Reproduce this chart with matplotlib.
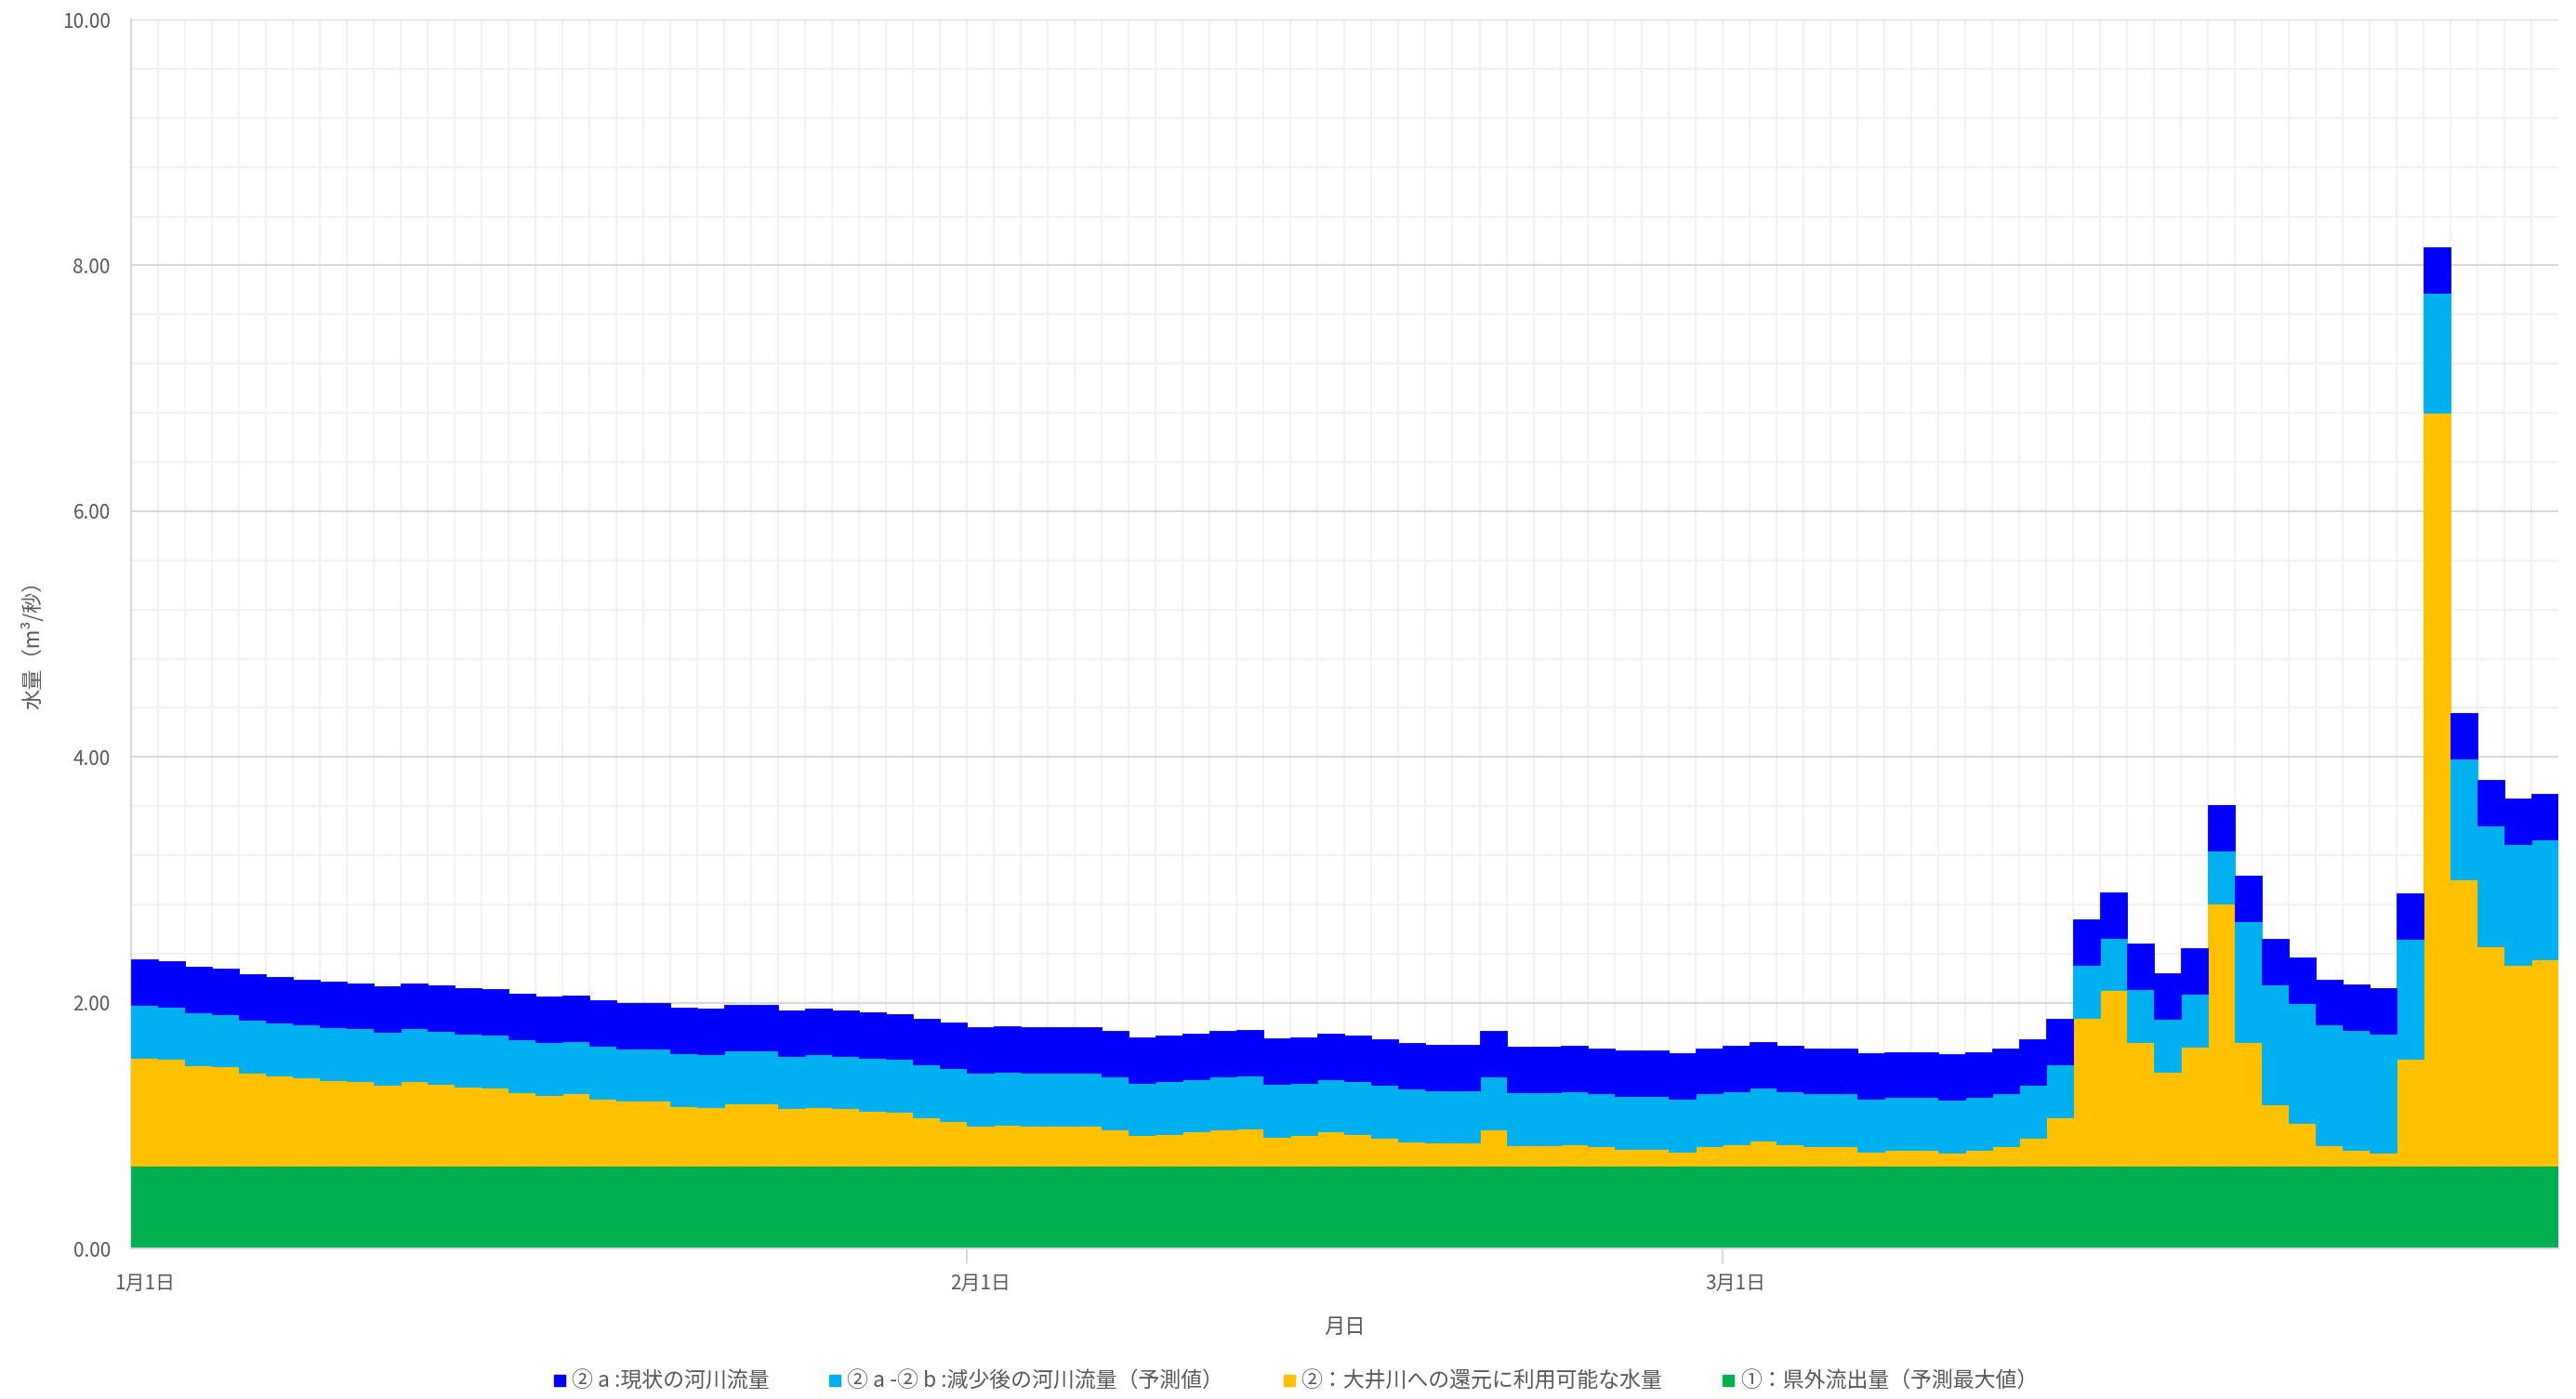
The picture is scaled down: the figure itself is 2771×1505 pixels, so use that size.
import matplotlib
matplotlib.use('Agg')
import numpy as np
import matplotlib.pyplot as plt
from matplotlib.lines import Line2D
from matplotlib.ticker import MultipleLocator, FixedLocator

plt.rcParams['font.family'] = ['Noto Sans CJK JP', 'DejaVu Sans']

# Datos (m3/秒), 1月1日〜3月31日, 1日ごと
dias = np.arange(90)

green = [0.67] * 90  # ①：県外流出量（予測最大値）

yellow = [
    0.88, 0.87, 0.82, 0.81, 0.76, 0.74, 0.72, 0.70, 0.69, 0.66,
    0.69, 0.67, 0.65, 0.64, 0.60, 0.58, 0.59, 0.55, 0.53, 0.53,
    0.49, 0.48, 0.51, 0.51, 0.47, 0.48, 0.47, 0.45, 0.44, 0.40,
    0.37, 0.33, 0.34, 0.33, 0.33, 0.33, 0.30, 0.25, 0.26, 0.28,
    0.30, 0.31, 0.24, 0.25, 0.28, 0.26, 0.23, 0.20, 0.19, 0.19,
    0.30, 0.17, 0.17, 0.18, 0.16, 0.14, 0.14, 0.12, 0.16, 0.18,
    0.21, 0.18, 0.16, 0.16, 0.12, 0.13, 0.13, 0.11, 0.13, 0.16,
    0.23, 0.40, 1.21, 1.43, 1.01, 0.77, 0.97, 2.14, 1.01, 0.50,
    0.35, 0.17, 0.13, 0.11, 0.87, 6.13, 2.33, 1.79, 1.64, 1.68,
]

cyan = [
    0.43, 0.43, 0.43, 0.43, 0.43, 0.43, 0.43, 0.43, 0.43, 0.43,
    0.43, 0.43, 0.43, 0.43, 0.43, 0.43, 0.43, 0.43, 0.43, 0.43,
    0.43, 0.43, 0.43, 0.43, 0.43, 0.43, 0.43, 0.43, 0.43, 0.43,
    0.43, 0.43, 0.43, 0.43, 0.43, 0.43, 0.43, 0.43, 0.43, 0.43,
    0.43, 0.43, 0.43, 0.43, 0.43, 0.43, 0.43, 0.43, 0.43, 0.43,
    0.43, 0.43, 0.43, 0.43, 0.43, 0.43, 0.43, 0.43, 0.43, 0.43,
    0.43, 0.43, 0.43, 0.43, 0.43, 0.43, 0.43, 0.43, 0.43, 0.43,
    0.43, 0.43, 0.43, 0.43, 0.43, 0.43, 0.43, 0.43, 0.98, 0.98,
    0.98, 0.98, 0.98, 0.97, 0.98, 0.98, 0.99, 0.98, 0.98, 0.98,
]

blue = [0.37] * 90

series = [
    ('①：県外流出量（予測最大値）', green, '#00B050'),
    ('②：大井川への還元に利用可能な水量', yellow, '#FFC000'),
    ('② a -② b :減少後の河川流量（予測値）', cyan, '#00B0F0'),
    ('② a :現状の河川流量', blue, '#0000FF'),
]

meses = ['1月1日', '2月1日', '3月1日']
inicio_mes = [0, 31, 59]

gris_texto = '#595959'

fig = plt.figure(figsize=(27.71, 15.05), dpi=100)
ax = fig.add_axes([0.0509, 0.1076, 0.9422, 0.8784])

x = dias + 0.5
base = np.zeros(len(dias))
for nombre, valores, color in series:
    v = np.array(valores)
    ax.bar(x, v, width=1.0, bottom=base, color=color,
           edgecolor=color, linewidth=0.6, zorder=3)
    base += v

ax.set_xlim(0, 90)
ax.set_ylim(0, 10)

# Ejes y rejilla
ax.yaxis.set_major_locator(MultipleLocator(2))
ax.yaxis.set_minor_locator(MultipleLocator(0.4))
ax.yaxis.set_major_formatter(plt.FuncFormatter(lambda v, p: f'{v:.2f}'))
ax.grid(which='major', axis='y', color='#D9D9D9', linewidth=1.5, zorder=0)
ax.grid(which='minor', axis='y', color='#F2F2F2', linewidth=1.5, zorder=0)

ax.set_xticks([m + 0.5 for m in inicio_mes], labels=meses)
ax.xaxis.set_minor_locator(FixedLocator(np.arange(1, 90)))
ax.grid(which='minor', axis='x', color='#F2F2F2', linewidth=1.5, zorder=0)
ax.vlines(inicio_mes[1:], -0.012, 1, transform=ax.get_xaxis_transform(),
          color='#D9D9D9', linewidth=1.5, zorder=1, clip_on=False)

ax.tick_params(axis='x', which='major', length=0, pad=19,
               labelsize=15, labelcolor=gris_texto)
ax.tick_params(axis='y', which='major', length=0, pad=16,
               labelsize=15, labelcolor=gris_texto)
ax.tick_params(which='minor', length=0)

for lado in ['top', 'right']:
    ax.spines[lado].set_visible(False)
ax.spines['left'].set_color('#D9D9D9')
ax.spines['bottom'].set_color('#D9D9D9')
ax.spines['left'].set_linewidth(1.5)
ax.spines['bottom'].set_linewidth(1.5)
ax.spines['bottom'].set_zorder(4)

ax.set_xlabel('月日', fontsize=16, color=gris_texto, va='center')
ax.xaxis.set_label_coords(0.5, -0.064)
ax.set_ylabel('水量（m³/秒）', fontsize=16, color=gris_texto, va='center')
ax.yaxis.set_label_coords(-0.0406, 0.495)

# Leyenda
handles = [Line2D([], [], linestyle='none', marker='s', markersize=9,
                  color=c) for _, _, c in reversed(series)]
labels = [n for n, _, _ in reversed(series)]
fig.legend(handles, labels, loc='center', bbox_to_anchor=(0.503, 0.0126),
           ncol=4, frameon=False, fontsize=16.5, labelcolor=gris_texto,
           handlelength=0.6, handletextpad=0.25, columnspacing=2.8)

plt.savefig('out.png', dpi=100)
